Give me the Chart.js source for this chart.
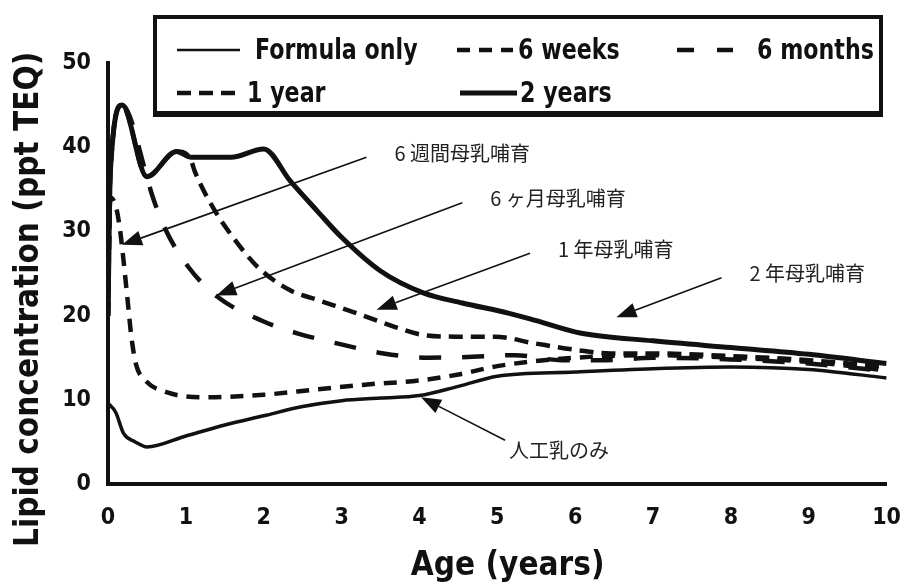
<!DOCTYPE html>
<html>
<head>
<meta charset="utf-8">
<title>Lipid concentration by age</title>
<script src="https://cdn.jsdelivr.net/npm/chart.js@4.4.1/dist/chart.umd.min.js"></script>
<style>
  body { margin: 0; background: #fff; }
</style>
</head>
<body>
<canvas id="lipidChart" width="921" height="588"></canvas>
<script>
// ---- data (age in years, concentration in ppt TEQ) ----
const xTickValues = [0, 1, 2, 3, 4, 5, 6, 7, 8, 9, 10];
const yTickValues = [0, 10, 20, 30, 40, 50];

const seriesNames = ['Formula only', '6 weeks', '6 months', '1 year', '2 years'];

const formulaAge  = [0, 0.1, 0.2, 0.35, 0.5, 1, 1.5, 2, 2.5, 3, 3.5, 4, 4.5, 5, 6, 7, 8, 9, 10];
const formulaConc = [9.6, 8.5, 6.0, 5.0, 4.4, 5.7, 7.0, 8.1, 9.2, 9.9, 10.2, 10.5, 11.6, 12.8, 13.3, 13.7, 13.9, 13.6, 12.6];

const sixWeekAge  = [0, 0.03, 0.1, 0.15, 0.2, 0.25, 0.3, 0.36, 0.48, 0.75, 1.25, 2, 2.65, 3.3, 4, 4.5, 5, 6, 7, 8, 9, 10];
const sixWeekConc = [20, 34, 33, 30.5, 26.5, 22, 17.5, 14.2, 12.3, 10.9, 10.3, 10.6, 11.2, 11.8, 12.3, 13, 14, 15, 15.3, 15.0, 14.5, 13.5];

const sixMonthAge  = [0, 0.03, 0.18, 0.5, 0.56, 0.74, 1.03, 1.41, 2, 2.43, 2.94, 3.54, 4.12, 4.68, 5.23, 5.83, 6.4, 7, 8, 9, 10];
const sixMonthConc = [20, 37, 45, 36.5, 34.5, 30.2, 25.8, 22.2, 19.3, 17.9, 16.7, 15.5, 15.0, 15.1, 15.3, 14.7, 14.7, 15.0, 14.8, 14.3, 13.4];

const oneYearAge  = [0, 0.03, 0.18, 0.5, 0.88, 1.05, 1.12, 1.37, 1.63, 1.92, 2.34, 2.68, 3.19, 3.7, 4.05, 4.5, 4.97, 5.48, 6.03, 6.46, 7, 8, 9, 10];
const oneYearConc = [20, 37, 45, 36.5, 39.5, 38.8, 37, 32.5, 29, 25.8, 23, 21.9, 20.3, 18.6, 17.7, 17.5, 17.5, 16.7, 15.9, 15.5, 15.5, 15.2, 14.7, 13.9];

const twoYearAge  = [0, 0.03, 0.18, 0.5, 0.88, 1.07, 1.58, 2.0, 2.34, 2.68, 3.0, 3.5, 4.05, 4.55, 5.14, 5.5, 6.08, 7, 8, 9, 10];
const twoYearConc = [20, 37, 45, 36.5, 39.5, 38.8, 38.8, 39.8, 36, 32.5, 29.3, 25.3, 22.7, 21.5, 20.3, 19.4, 17.9, 17.0, 16.2, 15.4, 14.3];

// Japanese call-outs: arrow tip and tail in data units
const noteTexts = ['6 週間母乳哺育', '6 ヶ月母乳哺育', '1 年母乳哺育', '2 年母乳哺育', '人工乳のみ'];
const noteTips  = [[0.18, 28.4], [1.39, 22.4], [3.45, 20.7], [6.53, 19.8], [4.02, 10.3]];
const noteTails = [[3.32, 38.8], [4.55, 33.4], [5.42, 27.4], [7.88, 24.5], [5.10, 5.2]];

const toPoints = (ages, values) => ages.map((a, i) => ({ x: a, y: values[i] }));

const INK = '#111';
const condensed = '"DejaVu Sans Condensed", "DejaVu Sans", sans-serif';
const tickFont = { family: condensed, weight: 'bold', size: 23 };
const titleFont = { family: condensed, weight: 'bold', size: 33 };

function drawArrow(ctx, x1, y1, x2, y2) {
  const ang = Math.atan2(y2 - y1, x2 - x1);
  const head = 20, half = 7.5;
  const bx = x2 - head * Math.cos(ang), by = y2 - head * Math.sin(ang);
  ctx.beginPath();
  ctx.moveTo(x1, y1);
  ctx.lineTo(bx, by);
  ctx.stroke();
  ctx.beginPath();
  ctx.moveTo(x2, y2);
  ctx.lineTo(bx + half * Math.sin(ang), by - half * Math.cos(ang));
  ctx.lineTo(bx - half * Math.sin(ang), by + half * Math.cos(ang));
  ctx.closePath();
  ctx.fill();
}

const calloutPlugin = {
  id: 'callouts',
  afterDatasetsDraw(chart) {
    const ctx = chart.ctx, xs = chart.scales.x, ys = chart.scales.y;
    ctx.save();
    ctx.strokeStyle = INK;
    ctx.fillStyle = INK;
    ctx.lineWidth = 1.6;
    ctx.font = '20px "Noto Sans CJK JP", sans-serif';
    ctx.textBaseline = 'middle';
    noteTexts.forEach((txt, i) => {
      const tx = xs.getPixelForValue(noteTails[i][0]), ty = ys.getPixelForValue(noteTails[i][1]);
      drawArrow(ctx, tx, ty, xs.getPixelForValue(noteTips[i][0]), ys.getPixelForValue(noteTips[i][1]));
      ctx.fillStyle = '#222';
      if (i === 4) ctx.fillText(txt, tx + 4, ty + 10);
      else ctx.fillText(txt, tx + 28, ty - 4);
      ctx.fillStyle = INK;
    });
    ctx.restore();
  }
};

// boxed legend drawn inside the plot, as in the figure
const legendSlots = [
  { x: 177, y: 50, len: 63, tx: 255 },
  { x: 457, y: 50, len: 56, tx: 518 },
  { x: 677, y: 50, len: 56, tx: 757 },
  { x: 177, y: 93, len: 60, tx: 247 },
  { x: 460, y: 93, len: 57, tx: 520 }
];

const boxLegendPlugin = {
  id: 'boxLegend',
  afterDraw(chart) {
    const ctx = chart.ctx;
    ctx.save();
    ctx.fillStyle = '#fff';
    ctx.fillRect(153, 15, 730, 102);
    ctx.strokeStyle = INK;
    ctx.lineWidth = 4;
    ctx.strokeRect(155, 17, 726, 96);
    ctx.fillStyle = INK;
    ctx.fillRect(153, 112, 730, 5);
    chart.data.datasets.forEach((ds, i) => {
      const s = legendSlots[i];
      ctx.beginPath();
      ctx.lineWidth = i === 0 ? 2.5 : ds.borderWidth;
      ctx.setLineDash(i === 2 ? [17, 23] : (ds.borderDash || []));
      ctx.moveTo(s.x, s.y);
      ctx.lineTo(s.x + s.len, s.y);
      ctx.stroke();
      ctx.setLineDash([]);
      ctx.save();
      ctx.translate(s.tx, s.y + 1);
      ctx.scale(0.85, 1);
      ctx.font = 'bold 29px ' + condensed;
      ctx.textBaseline = 'middle';
      ctx.fillText(ds.label, 0, 0);
      ctx.restore();
    });
    ctx.restore();
  }
};

const ctx = document.getElementById('lipidChart').getContext('2d');
const lipidChart = new Chart(ctx, {
  type: 'line',
  data: {
    datasets: [
      { label: seriesNames[0], data: toPoints(formulaAge, formulaConc), borderColor: INK, borderWidth: 3.5 },
      { label: seriesNames[1], data: toPoints(sixWeekAge, sixWeekConc), borderColor: INK, borderWidth: 4.5, borderDash: [13, 9] },
      { label: seriesNames[2], data: toPoints(sixMonthAge, sixMonthConc), borderColor: INK, borderWidth: 4.5, borderDash: [22, 21] },
      { label: seriesNames[3], data: toPoints(oneYearAge, oneYearConc), borderColor: INK, borderWidth: 4.5, borderDash: [14, 8] },
      { label: seriesNames[4], data: toPoints(twoYearAge, twoYearConc), borderColor: INK, borderWidth: 5 }
    ]
  },
  options: {
    responsive: false,
    animation: false,
    elements: {
      point: { radius: 0 },
      line: { cubicInterpolationMode: 'monotone', borderCapStyle: 'butt', fill: false }
    },
    layout: { padding: { top: 63, right: 26, left: 0, bottom: 0 } },
    plugins: {
      legend: { display: false },
      tooltip: { enabled: false }
    },
    scales: {
      x: {
        type: 'linear',
        min: 0,
        max: 10,
        afterBuildTicks: (scale) => { scale.ticks = xTickValues.map(v => ({ value: v })); },
        afterFit: (scale) => { scale.height = 104; },
        grid: { display: false, drawTicks: false },
        border: { display: true, color: INK, width: 4 },
        ticks: { color: INK, font: tickFont, padding: 20 },
        title: { display: true, text: '  Age (years)', color: INK, font: titleFont, padding: { top: 0, bottom: 2 } }
      },
      y: {
        type: 'linear',
        min: 0,
        max: 50,
        afterBuildTicks: (scale) => { scale.ticks = yTickValues.map(v => ({ value: v })); },
        afterFit: (scale) => { scale.width = 108; },
        grid: { display: false, drawTicks: false },
        border: { display: true, color: INK, width: 4 },
        ticks: { color: INK, font: tickFont, padding: 17 },
        title: { display: true, text: 'Lipid concentration (ppt TEQ)     ', color: INK, font: titleFont, padding: { top: 10, bottom: 0 } }
      }
    }
  },
  plugins: [calloutPlugin, boxLegendPlugin]
});
</script>
</body>
</html>
